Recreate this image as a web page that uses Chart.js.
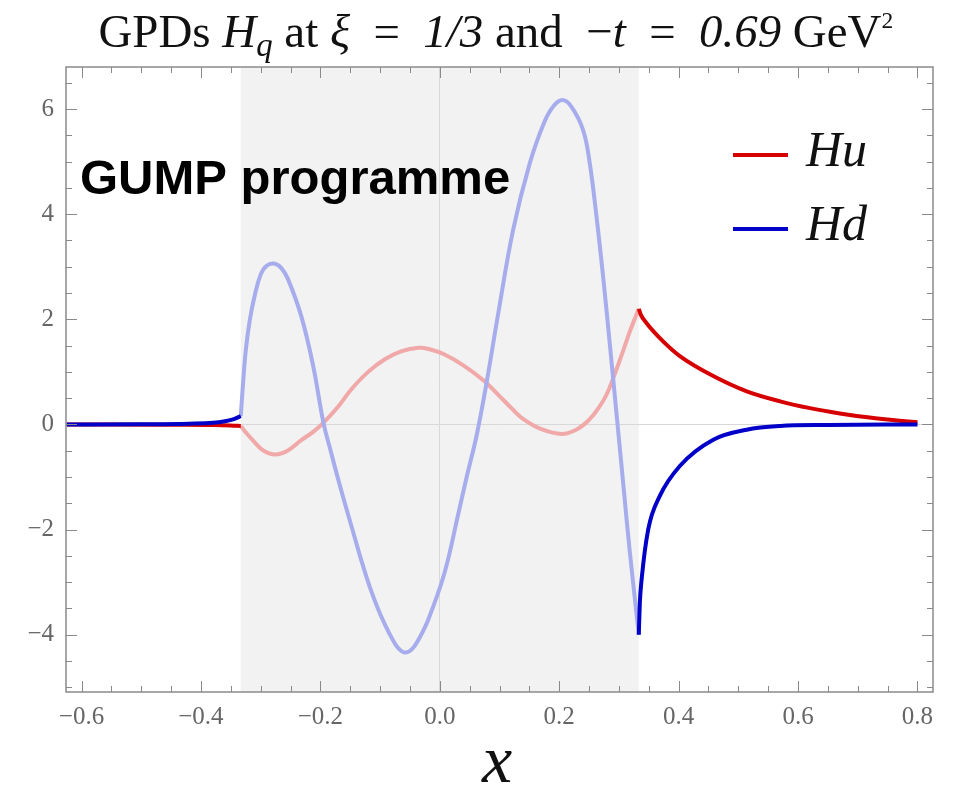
<!DOCTYPE html>
<html><head><meta charset="utf-8">
<script src="https://cdn.jsdelivr.net/npm/chart.js@4.4.0/dist/chart.umd.min.js"></script>
<style>html,body{margin:0;padding:0;background:#fff;}</style>
</head><body>
<canvas id="c" width="960" height="793"></canvas>
<script>
// ---------- data ----------
const xTicks = [-0.6, -0.4, -0.2, 0.0, 0.2, 0.4, 0.6, 0.8];
const yTicks = [-4, -2, 0, 2, 4, 6];
const xRange = [-0.626, 0.826];
const yRange = [-5.09, 6.8];
const shadedRange = [-1/3, 1/3];

// H_u (red)
const huLeftX = [-0.625, -0.45, -0.38, -0.35, -0.3333];
const huLeftY = [0, -0.005, -0.01, -0.02, -0.03];
const huMidX = [-0.3333, -0.325, -0.31, -0.295, -0.276, -0.255, -0.232, -0.212, -0.195, -0.17, -0.148, -0.12, -0.092, -0.065, -0.036, -0.017, 0.008, 0.04, 0.073, 0.1, 0.12, 0.14, 0.17, 0.204, 0.23, 0.251, 0.265, 0.279, 0.296, 0.307, 0.32, 0.3333];
const huMidY = [-0.03, -0.15, -0.34, -0.5, -0.57, -0.5, -0.3, -0.14, 0.03, 0.34, 0.67, 1.0, 1.24, 1.39, 1.46, 1.43, 1.33, 1.12, 0.84, 0.54, 0.31, 0.1, -0.09, -0.18, -0.09, 0.1, 0.3, 0.56, 1.05, 1.4, 1.82, 2.2];
const huRightX = [0.3333, 0.337, 0.346, 0.374, 0.402, 0.458, 0.514, 0.57, 0.62, 0.67, 0.72, 0.77, 0.8];
const huRightY = [2.2, 2.08, 1.93, 1.58, 1.3, 0.92, 0.63, 0.44, 0.31, 0.21, 0.13, 0.07, 0.04];

// H_d (blue)
const hdLeftX = [-0.625, -0.5, -0.42, -0.38, -0.36, -0.345, -0.3333];
const hdLeftY = [0, 0.005, 0.015, 0.03, 0.06, 0.1, 0.16];
const hdMidX = [-0.3333, -0.33, -0.325, -0.318, -0.31, -0.3, -0.29, -0.2776, -0.265, -0.254, -0.232, -0.212, -0.195, -0.184, -0.17, -0.159, -0.145, -0.131, -0.117, -0.103, -0.09, -0.08, -0.07, -0.0586, -0.047, -0.035, -0.0196, 0.008, 0.03, 0.045, 0.0615, 0.078, 0.098, 0.123, 0.151, 0.175, 0.19, 0.205, 0.22, 0.24, 0.251, 0.263, 0.274, 0.285, 0.296, 0.307, 0.318, 0.3333];
const hdMidY = [0.16, 0.7, 1.4, 2.0, 2.45, 2.85, 3.02, 3.06, 2.97, 2.76, 2.06, 1.11, 0.04, -0.45, -1.05, -1.5, -2.05, -2.6, -3.1, -3.52, -3.85, -4.07, -4.25, -4.34, -4.28, -4.08, -3.72, -2.82, -1.75, -1.0, -0.22, 0.77, 2.12, 3.71, 4.98, 5.75, 6.05, 6.17, 6.05, 5.6, 4.98, 3.9, 2.76, 1.5, 0.2, -1.1, -2.4, -4.0];
const hdRightX = [0.3333, 0.335, 0.338, 0.349, 0.3685, 0.402, 0.458, 0.514, 0.57, 0.65, 0.8];
const hdRightY = [-4.0, -3.4, -2.95, -2.0, -1.36, -0.79, -0.29, -0.1, -0.03, -0.01, 0.0];

const seriesNames = ['Hu', 'Hd'];
const annotationText = 'GUMP programme';

// ---------- styles ----------
const RED = 'rgb(214,0,0)', BLUE = 'rgb(0,0,200)';
const RED_FADED = 'rgb(240,168,168)', BLUE_FADED = 'rgb(166,172,236)';
const SERIF = "'Liberation Serif','Times New Roman',serif";
const SANS = "'Liberation Sans',Arial,Helvetica,sans-serif";

const pts = (xs, ys) => xs.map((x, i) => ({x: x, y: ys[i]}));
const ds = (xs, ys, color, order, smooth) => Object.assign({
  data: pts(xs, ys), borderColor: color, borderWidth: 4, pointRadius: 0,
  fill: false, borderJoinStyle: 'round', order: order
}, smooth ? {tension: 0.4} : {cubicInterpolationMode: 'monotone'});

const minus = s => s.replace('-', '\u2212');

const framePlugin = {
  id: 'frame',
  beforeDraw(chart) {
    const {ctx, chartArea: a, scales: {x}} = chart;
    ctx.save();
    ctx.fillStyle = '#f2f2f2';
    const x0 = x.getPixelForValue(shadedRange[0]), x1 = x.getPixelForValue(shadedRange[1]);
    ctx.fillRect(x0, a.top, x1 - x0, a.bottom - a.top);
    ctx.restore();
  },
  afterDatasetsDraw(chart) {
    const {ctx, chartArea: a, scales: {x, y}} = chart;
    ctx.save();
    ctx.strokeStyle = '#8a8a8a';
    ctx.lineWidth = 1.5;
    ctx.strokeRect(a.left, a.top, a.right - a.left, a.bottom - a.top);
    ctx.lineWidth = 1;
    ctx.beginPath();
    for (let k = -12; k <= 16; k++) {
      const v = k * 0.05;
      if (v < xRange[0] || v > xRange[1]) continue;
      const major = (k % 4 === 0);
      const L = major ? 11 : 6;
      const px = Math.round(x.getPixelForValue(v)) + 0.5;
      ctx.moveTo(px, a.bottom); ctx.lineTo(px, a.bottom - L);
      ctx.moveTo(px, a.top); ctx.lineTo(px, a.top + L);
    }
    for (let k = -10; k <= 13; k++) {
      const v = k * 0.5;
      if (v < yRange[0] || v > yRange[1]) continue;
      const major = (k % 4 === 0);
      const L = major ? 11 : 6;
      const py = Math.round(y.getPixelForValue(v)) + 0.5;
      ctx.moveTo(a.left, py); ctx.lineTo(a.left + L, py);
      ctx.moveTo(a.right, py); ctx.lineTo(a.right - L, py);
    }
    ctx.stroke();
    ctx.restore();
  },
  afterDraw(chart) {
    const ctx = chart.ctx;
    ctx.save();
    // title (rich text)
    const segs = [
      ['GPDs ', 'normal', 1, 0], ['H', 'italic', 1, 0], ['q', 'italic', 0.7, 8],
      [' at ', 'normal', 1, 0], ['\u03be', 'italic', 1, 0], ['  =  ', 'normal', 1, 0],
      ['1/3', 'italic', 1, 0], [' and  ', 'normal', 1, 0], ['\u2212', 'normal', 1, 0],
      ['t', 'italic', 1, 0], ['  =  ', 'normal', 1, 0], ['0.69', 'italic', 1, 0],
      [' GeV', 'normal', 1, 0], ['2', 'normal', 0.5, -16]
    ];
    const base = 40;
    const fontOf = (s, sz) => `${s[1]} ${sz}px ${SERIF}`;
    let w = 0;
    segs.forEach(s => { ctx.font = fontOf(s, base * s[2]); w += ctx.measureText(s[0]).width; });
    const target = 795, scale = target / w, size = base * scale;
    let cx = 496 - target / 2;
    ctx.fillStyle = '#111';
    ctx.textBaseline = 'alphabetic';
    ctx.textAlign = 'left';
    segs.forEach(s => {
      ctx.font = fontOf(s, size * s[2]);
      ctx.fillText(s[0], cx, 47 + s[3] * scale);
      cx += ctx.measureText(s[0]).width;
    });
    // annotation
    ctx.font = `bold 49px ${SANS}`;
    ctx.fillStyle = '#000';
    ctx.fillText(annotationText, 80, 194);
    // legend
    const leg = [[seriesNames[0], RED, 155, 166], [seriesNames[1], BLUE, 229, 240]];
    leg.forEach(([name, col, ly, by]) => {
      ctx.strokeStyle = col; ctx.lineWidth = 4;
      ctx.beginPath(); ctx.moveTo(733, ly); ctx.lineTo(788, ly); ctx.stroke();
      ctx.fillStyle = '#111';
      ctx.font = `italic 50px ${SERIF}`;
      ctx.fillText(name, 806, by);
    });
    // x axis title
    ctx.font = `italic 68px ${SERIF}`;
    ctx.textAlign = 'center';
    ctx.fillText('x', 497, 782);
    ctx.restore();
  }
};

new Chart(document.getElementById('c'), {
  type: 'line',
  data: {
    datasets: [
      ds(hdLeftX, hdLeftY, BLUE, 0, false),
      ds(hdRightX, hdRightY, BLUE, 0, false),
      ds(hdMidX, hdMidY, BLUE_FADED, 2, true),
      ds(huLeftX, huLeftY, RED, 1, false),
      ds(huRightX, huRightY, RED, 1, false),
      ds(huMidX, huMidY, RED_FADED, 3, true)
    ]
  },
  options: {
    responsive: false, animation: false, devicePixelRatio: 1,
    layout: {padding: {top: 67, right: 27, left: 0, bottom: 0}},
    plugins: {legend: {display: false}, title: {display: false}, tooltip: {enabled: false}},
    scales: {
      x: {
        type: 'linear', min: xRange[0], max: xRange[1],
        afterBuildTicks: s => { s.ticks = xTicks.map(v => ({value: v})); },
        afterFit: s => { s.height = 793 - 692; },
        ticks: {
          autoSkip: false, maxRotation: 0, padding: 10, color: '#666',
          font: {family: SERIF, size: 25},
          callback: v => minus(Number(v).toFixed(1))
        },
        grid: {
          drawTicks: false, lineWidth: 1,
          color: c => (c.tick && Math.abs(c.tick.value) < 1e-9) ? '#d8d8d8' : 'rgba(0,0,0,0)'
        },
        border: {display: false}
      },
      y: {
        type: 'linear', min: yRange[0], max: yRange[1],
        afterBuildTicks: s => { s.ticks = yTicks.map(v => ({value: v})); },
        afterFit: s => { s.width = 66; },
        ticks: {
          autoSkip: false, padding: 12, color: '#666',
          font: {family: SERIF, size: 25},
          callback: v => minus(String(v))
        },
        grid: {
          drawTicks: false, lineWidth: 1,
          color: c => (c.tick && Math.abs(c.tick.value) < 1e-9) ? '#d8d8d8' : 'rgba(0,0,0,0)'
        },
        border: {display: false}
      }
    }
  },
  plugins: [framePlugin]
});
</script>
</body></html>
